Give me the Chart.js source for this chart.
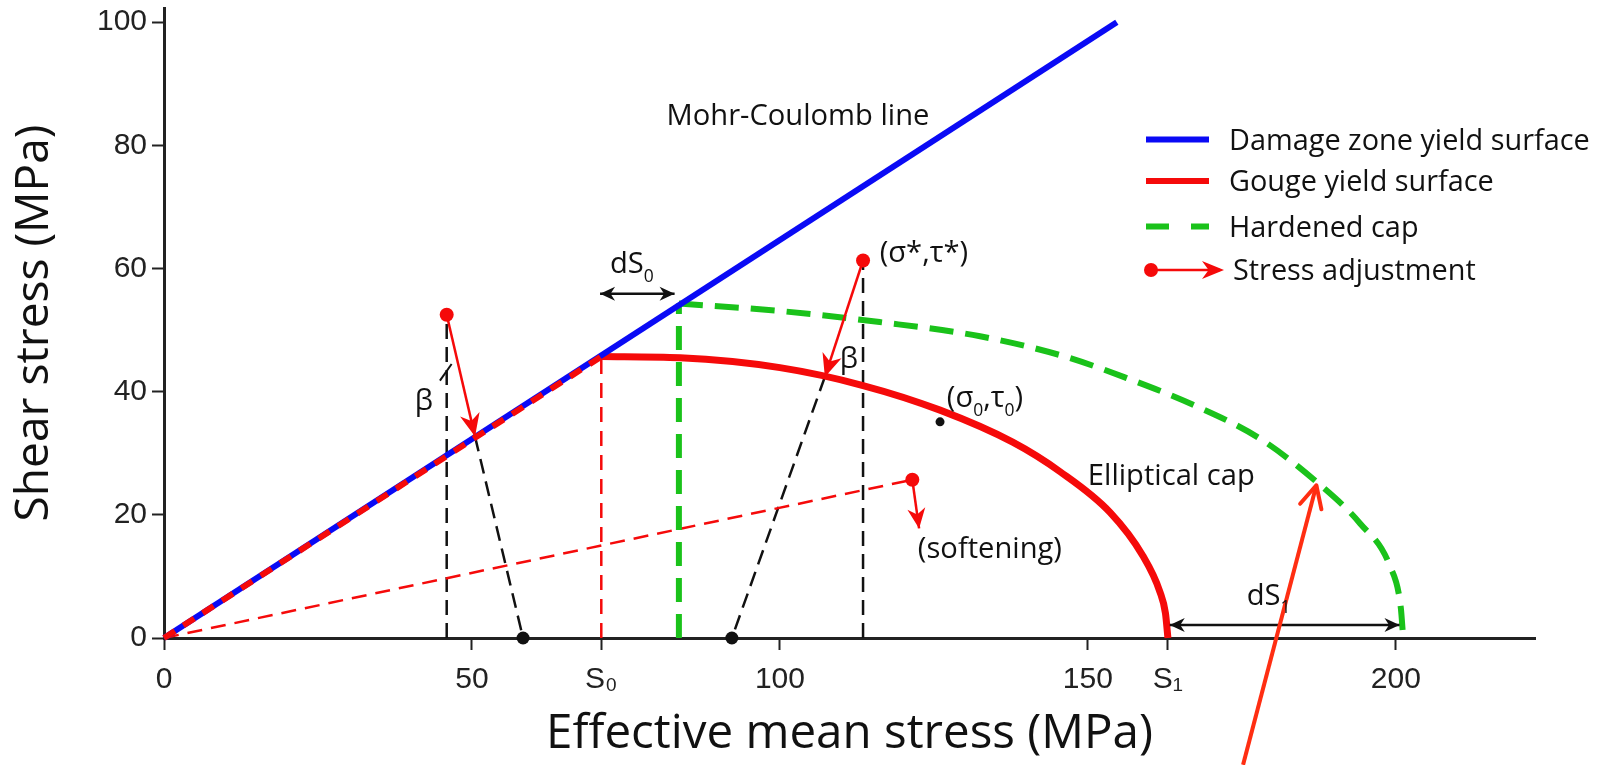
<!DOCTYPE html>
<html>
<head>
<meta charset="utf-8">
<script src="https://cdn.jsdelivr.net/npm/chart.js@4.4.1/dist/chart.umd.min.js"></script>
<style>
  html, body { margin: 0; padding: 0; background: #fff; }
  #wrap { width: 1599px; height: 765px; position: relative; }
</style>
</head>
<body>
<div id="wrap"><canvas id="c"></canvas></div>
<script>
// Values, in MPa (x = effective mean stress, y = shear stress).
const xTicks = [0, 50, 71, 100, 150, 163, 200];
const xTickLabels = ['0', '50', 'S₀', '100', '150', 'S₁', '200'];
const yTicks = [0, 20, 40, 60, 80, 100];

const mohrCoulomb = [[0, 0], [154.7, 100]];
const gougeOnMohr = [[0, 0], [71, 45.7]];
const gougeCap = [[71, 45.7], [83.8, 45.5], [100, 43.9], [113.5, 41], [126, 37], [137.8, 31.8],
  [145.5, 27], [153.6, 20.4], [158.9, 13.4], [161.7, 7.5], [162.6, 4], [163, 0]];
const hardenedCap = [[83.6, 54.3], [100, 53.1], [116.2, 51.3], [132.5, 49], [146.3, 45.7],
  [156.3, 42.2], [167, 37.9], [177.9, 32.4], [187.2, 25.3], [194.2, 18.6], [199, 11.8],
  [200.8, 5], [201.2, 0]];
const hardenedEdge = [[83.6, 0], [83.6, 54.3]];
const s0Edge = [[71, 0], [71, 45.7]];
const softeningPath = [[0, 0], [121.5, 25.7]];
const trialA = [[45.9, 0], [45.9, 52.5]];
const returnA = [[50.5, 32.7], [58.3, 0]];
const trialB = [[113.5, 0], [113.5, 61.3]];
const returnB = [[107.3, 42.4], [92.2, 0]];
const adjustA = [[45.9, 52.5], [50.5, 32.7]];
const adjustB = [[113.5, 61.3], [107.3, 42.4]];
const adjustSoft = [[121.5, 25.7], [122.6, 17.8]];
const groundDots = [[58.3, 0], [92.2, 0]];
const initialState = [[126, 35.1]];
const dS0Span = [[70.8, 55.9], [82.9, 55.9]];
const dS1Span = [[163.3, 2.1], [200.6, 2.1]];
const betaMark = [[44.8, 41.8], [46.7, 44.5]];
const calloutArrow = [[175.2, -20.6], [187.1, 24.8]];

// Text notes anchored in data space (left edge, baseline). "_x" = subscript x.
const notes = [
  ['Mohr-Coulomb line', 81.6, 83.3],
  ['dS_0', 72.4, 59.2],
  ['(σ*,τ*)', 116.2, 61.1],
  ['β', 40.7, 37.0],
  ['β', 109.7, 43.8],
  ['(σ_0,τ_0)', 127.1, 37.5],
  ['Elliptical cap', 150, 24.8],
  ['(softening)', 122.4, 13.0],
  ['dS_1', 175.8, 5.4],
];

const BLUE = '#0a0af5';
const RED = '#f50a0a';
const GREEN = '#1ac21a';
const CALLOUT = '#ff2e12';
const INK = '#111';
const SANS = '"Open Sans", "DejaVu Sans", sans-serif';
const TICK_FONT = '"Liberation Sans", Arial, sans-serif';

// Size a font so that a text spans the width it has in the figure.
const mctx = document.createElement('canvas').getContext('2d');
function fitSize(text, family, width) {
  mctx.font = `100px ${family}`;
  return 100 * width / mctx.measureText(text).width;
}
const noteSize = fitSize('Mohr-Coulomb line', SANS, 263);
const legendSize = fitSize('Damage zone yield surface', SANS, 361);
const xTitleSize = fitSize('Effective mean stress (MPa)', SANS, 607);
const yTitleSize = fitSize('Shear stress (MPa)', SANS, 397);

function lineSet(points, style) {
  return Object.assign({
    data: points.map(([x, y]) => ({ x, y })),
    showLine: true,
    pointRadius: 0,
    pointBorderWidth: 0,
    clip: false,
    fill: false,
    tension: 0,
  }, style);
}

const dashed = (color, width, dash, order) => ({ borderColor: color, borderWidth: width, borderDash: dash, order });

const datasets = [
  lineSet(trialA, dashed(INK, 2.5, [15, 8], 9)),
  lineSet(returnA, dashed(INK, 2.5, [15, 8], 9)),
  lineSet(trialB, dashed(INK, 2.5, [15, 8], 9)),
  lineSet(returnB, dashed(INK, 2.5, [15, 8], 9)),
  lineSet(s0Edge, dashed(RED, 2.5, [15, 9], 8)),
  lineSet(softeningPath, dashed(RED, 2.5, [15, 9], 8)),
  lineSet(hardenedEdge, dashed(GREEN, 6, [24, 12], 7)),
  lineSet(hardenedCap, Object.assign(dashed(GREEN, 6, [24, 12], 7), { cubicInterpolationMode: 'monotone' })),
  lineSet(gougeCap, { borderColor: RED, borderWidth: 7, cubicInterpolationMode: 'monotone', order: 6 }),
  lineSet(mohrCoulomb, { borderColor: BLUE, borderWidth: 6, order: 5 }),
  lineSet(gougeOnMohr, dashed(RED, 6, [13, 10], 4)),
  lineSet(betaMark, { borderColor: INK, borderWidth: 2, order: 3 }),
  lineSet(dS0Span, { borderColor: INK, borderWidth: 2.5, order: 3,
    arrow: { start: true, end: true, len: 15, half: 7, notch: 0.3 } }),
  lineSet(dS1Span, { borderColor: INK, borderWidth: 2.5, order: 3,
    arrow: { start: true, end: true, len: 15, half: 7, notch: 0.3 } }),
  lineSet(adjustA, { borderColor: RED, borderWidth: 2.5, order: 2, pointRadius: [7, 0],
    pointBackgroundColor: RED, arrow: { end: true, len: 23, half: 10, notch: 0.3 } }),
  lineSet(adjustB, { borderColor: RED, borderWidth: 2.5, order: 2, pointRadius: [7, 0],
    pointBackgroundColor: RED, arrow: { end: true, len: 23, half: 10, notch: 0.3 } }),
  lineSet(adjustSoft, { borderColor: RED, borderWidth: 2.5, order: 2, pointRadius: [7, 0],
    pointBackgroundColor: RED, arrow: { end: true, len: 20, half: 9, notch: 0.3 } }),
  lineSet(groundDots, { showLine: false, pointRadius: 6.5, pointBackgroundColor: INK, order: 1 }),
  lineSet(initialState, { showLine: false, pointRadius: 4.5, pointBackgroundColor: INK, order: 1 }),
  lineSet(calloutArrow, { borderColor: CALLOUT, borderWidth: 4, order: 0,
    arrow: { end: true, len: 22, half: 11, open: true } }),
];

// -----------------------------------------------------------------------------
// Overlay: arrowheads, text notes and the in-plot legend.
// -----------------------------------------------------------------------------

function drawHead(ctx, from, to, a, color, width) {
  const ang = Math.atan2(to[1] - from[1], to[0] - from[0]);
  const cos = Math.cos(ang);
  const sin = Math.sin(ang);
  const bx = to[0] - a.len * cos;
  const by = to[1] - a.len * sin;
  const left = [bx - a.half * sin, by + a.half * cos];
  const right = [bx + a.half * sin, by - a.half * cos];
  ctx.save();
  ctx.setLineDash([]);
  if (a.open) {
    ctx.strokeStyle = color;
    ctx.lineWidth = width;
    ctx.lineCap = 'round';
    ctx.lineJoin = 'round';
    ctx.beginPath();
    ctx.moveTo(left[0], left[1]);
    ctx.lineTo(to[0], to[1]);
    ctx.lineTo(right[0], right[1]);
    ctx.stroke();
  } else {
    const nx = to[0] - a.len * (1 - a.notch) * cos;
    const ny = to[1] - a.len * (1 - a.notch) * sin;
    ctx.fillStyle = color;
    ctx.beginPath();
    ctx.moveTo(to[0], to[1]);
    ctx.lineTo(left[0], left[1]);
    ctx.lineTo(nx, ny);
    ctx.lineTo(right[0], right[1]);
    ctx.closePath();
    ctx.fill();
  }
  ctx.restore();
}

function drawRich(ctx, text, px, py, size) {
  const parts = text.split(/_(.)/);
  let cx = px;
  parts.forEach((part, i) => {
    if (!part) return;
    const sub = i % 2 === 1;
    ctx.font = `${sub ? size * 0.6 : size}px ${SANS}`;
    ctx.fillText(part, cx, sub ? py + size * 0.3 : py);
    cx += ctx.measureText(part).width;
  });
}

const legendRows = [
  { label: 'Damage zone yield surface', color: BLUE, y: 139.5 },
  { label: 'Gouge yield surface', color: RED, y: 181 },
  { label: 'Hardened cap', color: GREEN, y: 226.5, dash: [23, 22] },
  { label: 'Stress adjustment', color: RED, y: 270, arrow: true },
];

const overlayPlugin = {
  id: 'overlay',
  afterDatasetsDraw(chart) {
    const { ctx } = chart;
    const xs = chart.scales.x;
    const ys = chart.scales.y;

    chart.data.datasets.forEach((ds) => {
      if (!ds.arrow) return;
      const pts = ds.data.map((p) => [xs.getPixelForValue(p.x), ys.getPixelForValue(p.y)]);
      const n = pts.length;
      if (ds.arrow.end) drawHead(ctx, pts[n - 2], pts[n - 1], ds.arrow, ds.borderColor, ds.borderWidth);
      if (ds.arrow.start) drawHead(ctx, pts[1], pts[0], ds.arrow, ds.borderColor, ds.borderWidth);
    });

    ctx.save();
    ctx.fillStyle = INK;
    ctx.textAlign = 'left';
    ctx.textBaseline = 'alphabetic';
    notes.forEach(([text, x, y]) => {
      drawRich(ctx, text, xs.getPixelForValue(x), ys.getPixelForValue(y), noteSize);
    });

    // Legend, top right inside the plot
    legendRows.forEach((row) => {
      ctx.save();
      ctx.strokeStyle = row.color;
      if (row.arrow) {
        ctx.lineWidth = 2.5;
        ctx.beginPath();
        ctx.moveTo(1151, row.y);
        ctx.lineTo(1220, row.y);
        ctx.stroke();
        ctx.fillStyle = row.color;
        ctx.beginPath();
        ctx.arc(1151, row.y, 7, 0, Math.PI * 2);
        ctx.fill();
        drawHead(ctx, [1151, row.y], [1224, row.y], { len: 22, half: 9, notch: 0.3 }, row.color, 2.5);
      } else {
        ctx.lineWidth = 6;
        ctx.setLineDash(row.dash || []);
        ctx.beginPath();
        ctx.moveTo(1146, row.y);
        ctx.lineTo(1209, row.y);
        ctx.stroke();
      }
      ctx.restore();
      ctx.fillStyle = INK;
      ctx.font = `${legendSize}px ${SANS}`;
      ctx.fillText(row.label, row.arrow ? 1233 : 1229, row.y + legendSize * 0.36);
    });
    ctx.restore();
  },
};

const axisGrid = {
  drawOnChartArea: false,
  drawTicks: true,
  tickLength: 12,
  tickWidth: 2,
  tickColor: '#222',
};

new Chart(document.getElementById('c'), {
  type: 'scatter',
  data: { datasets },
  plugins: [overlayPlugin],
  options: {
    responsive: true,
    maintainAspectRatio: false,
    animation: false,
    events: [],
    layout: { padding: { left: 0, top: 7, right: 64, bottom: 0 } },
    plugins: { legend: { display: false }, tooltip: { enabled: false } },
    elements: { point: { radius: 0, hoverRadius: 0 } },
    scales: {
      x: {
        type: 'linear',
        min: 0,
        max: 222.6,
        afterBuildTicks: (s) => { s.ticks = xTicks.map((v) => ({ value: v })); },
        afterFit: (s) => { s.height = 127; },
        ticks: {
          autoSkip: false,
          maxRotation: 0,
          padding: 12,
          color: '#222',
          font: { family: TICK_FONT, size: 30 },
          callback: (v, i) => xTickLabels[i],
        },
        grid: axisGrid,
        border: { color: '#222', width: 3 },
        title: {
          display: true,
          text: 'Effective mean stress (MPa)',
          color: INK,
          font: { family: SANS, size: xTitleSize },
          padding: { top: 0, bottom: 2 },
        },
      },
      y: {
        type: 'linear',
        min: 0,
        max: 102.3,
        afterBuildTicks: (s) => { s.ticks = yTicks.map((v) => ({ value: v })); },
        afterFit: (s) => { s.width = 164; },
        ticks: {
          padding: 5,
          color: '#222',
          // tiny line height keeps the scale's top padding inside the 7px margin
          font: { family: TICK_FONT, size: 30, lineHeight: 0.2 },
        },
        grid: axisGrid,
        border: { color: '#222', width: 3 },
        title: {
          display: true,
          text: 'Shear stress (MPa)',
          color: INK,
          font: { family: SANS, size: yTitleSize },
          padding: { top: 7, bottom: 0 },
        },
      },
    },
  },
});
</script>
</body>
</html>
